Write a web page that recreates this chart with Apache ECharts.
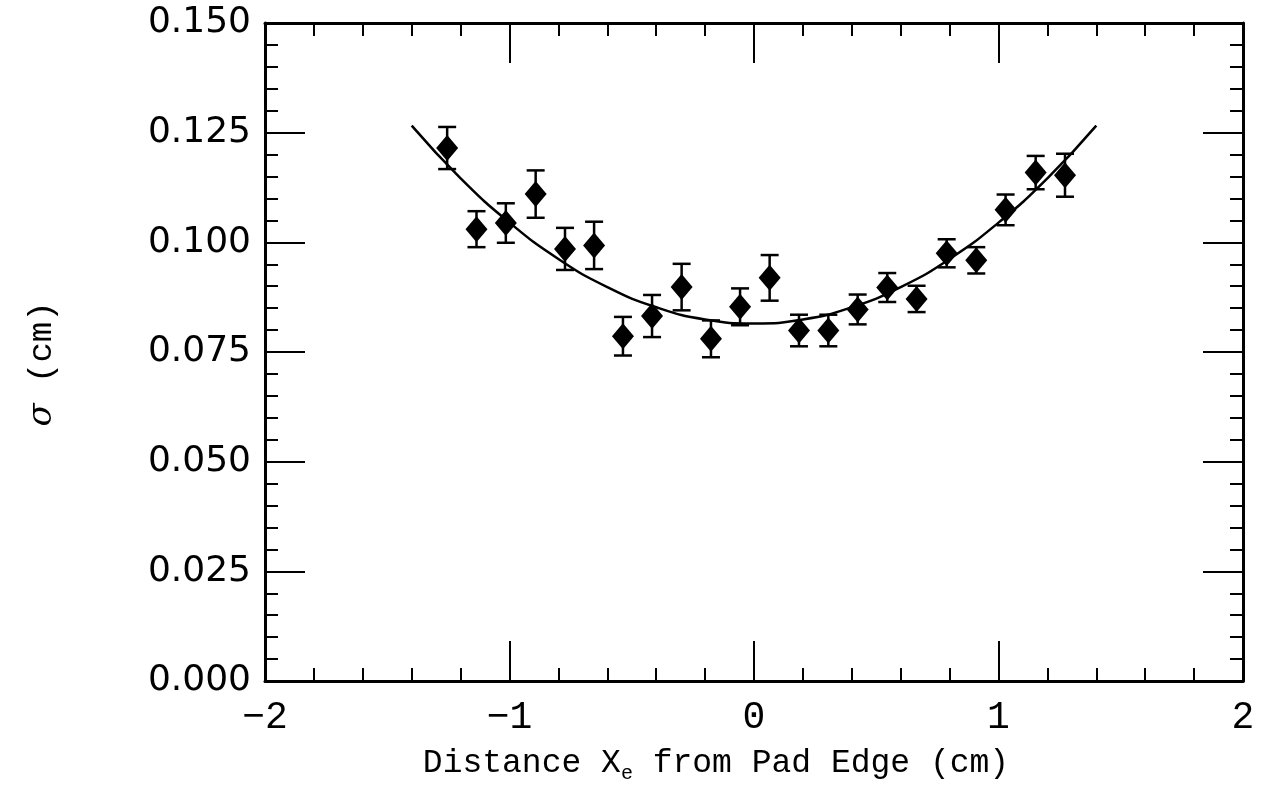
<!DOCTYPE html>
<html>
<head>
<meta charset="utf-8">
<script src="https://cdn.jsdelivr.net/npm/echarts@6/dist/echarts.min.js"></script>
<style>
  html, body { margin: 0; padding: 0; background: #fff; }
  #main { width: 1261px; height: 793px; }
</style>
</head>
<body>
<div id="main"></div>
<script>
// measured points (distance from pad edge, cm)
const xVals = [-1.255, -1.135, -1.015, -0.893, -0.773, -0.654, -0.536, -0.417, -0.296, -0.176, -0.057,
               0.064, 0.184, 0.304, 0.424, 0.545, 0.665, 0.788, 0.909, 1.029, 1.152, 1.272];
const sigmaVals = [0.1215, 0.1030, 0.1044, 0.1110, 0.0985, 0.0993, 0.0786, 0.0832, 0.0898, 0.0780, 0.0853,
                   0.0919, 0.0799, 0.0799, 0.0847, 0.0897, 0.0871, 0.0975, 0.0959, 0.1074, 0.1159, 0.1153];
const sigmaErr = [0.0048, 0.0041, 0.0045, 0.0054, 0.0048, 0.0054, 0.0044, 0.0048, 0.0053, 0.0042, 0.0042,
                  0.0052, 0.0036, 0.0036, 0.0034, 0.0033, 0.0030, 0.0032, 0.0030, 0.0035, 0.0038, 0.0049];
// fitted curve
const fitX = [-1.4, -1.2, -1.0, -0.8, -0.6, -0.4, -0.2, 0.0, 0.2, 0.4, 0.6, 0.8, 1.0, 1.2, 1.4];
const fitY = [0.1266, 0.1146, 0.1045, 0.0962, 0.0898, 0.0852, 0.0824, 0.0815, 0.0824, 0.0852, 0.0898, 0.0962, 0.1045, 0.1146, 0.1266];

const monoFont = '"Liberation Mono", "DejaVu Sans Mono", monospace';
const sansFont = '"DejaVu Sans", sans-serif';

let chart = echarts.init(document.getElementById('main'));

let points = xVals.map((x, i) => [x, sigmaVals[i]]);
let bars = xVals.map((x, i) => [x, sigmaVals[i] - sigmaErr[i], sigmaVals[i] + sigmaErr[i]]);
let fit = fitX.map((x, i) => [x, fitY[i]]);

function frameAxis(extra) {
    return Object.assign({
        type: 'value',
        axisLine: { show: true, onZero: false, lineStyle: { color: '#000', width: 3 } },
        axisTick: { show: true, inside: true, length: 40, lineStyle: { color: '#000', width: 2 } },
        minorTick: { show: true, splitNumber: 5, length: 13, lineStyle: { color: '#000', width: 2 } },
        splitLine: { show: false },
        minorSplitLine: { show: false }
    }, extra);
}

chart.setOption({
    animation: false,
    backgroundColor: '#fff',
    grid: { left: 265, right: 18, top: 23, bottom: 112 },
    xAxis: [
        frameAxis({
            position: 'bottom', min: -2, max: 2, interval: 1,
            axisLabel: {
                color: '#000', fontFamily: monoFont, fontSize: 38, margin: 18,
                formatter: v => (v < 0 ? '\u2212' + Math.abs(v) : String(v))
            },
            name: '{t|Distance X}{e|e}{t| from Pad Edge (cm)}',
            nameLocation: 'middle',
            nameGap: 56,
            nameTextStyle: {
                padding: [0, 76, 0, 0],
                rich: {
                    t: { fontFamily: monoFont, fontSize: 33, color: '#000', lineHeight: 38 },
                    e: { fontFamily: monoFont, fontSize: 20, color: '#000', lineHeight: 20, padding: [22, 0, 0, 0] }
                }
            }
        }),
        frameAxis({ position: 'top', min: -2, max: 2, interval: 1, axisLabel: { show: false } })
    ],
    yAxis: [
        frameAxis({
            position: 'left', min: 0, max: 0.15, interval: 0.025,
            axisLabel: {
                color: '#000', fontFamily: sansFont, fontSize: 36, margin: 14,
                formatter: v => v.toFixed(3)
            }
        }),
        frameAxis({ position: 'right', min: 0, max: 0.15, interval: 0.025, axisLabel: { show: false } })
    ],
    graphic: [{
        type: 'text',
        x: 42, y: 364,
        rotation: Math.PI / 2,
        style: {
            text: '{s|\u03c3}{t| (cm)}',
            align: 'center',
            verticalAlign: 'middle',
            rich: {
                s: { fontFamily: '"DejaVu Serif", serif', fontStyle: 'italic', fontSize: 34, fill: '#000' },
                t: { fontFamily: monoFont, fontSize: 34, fill: '#000' }
            }
        }
    }],
    series: [
        {
            name: 'fit',
            type: 'line',
            data: fit,
            smooth: true,
            showSymbol: false,
            lineStyle: { color: '#000', width: 2.5 },
            z: 2
        },
        {
            name: 'errors',
            type: 'custom',
            data: bars,
            renderItem: function (params, api) {
                let lo = api.coord([api.value(0), api.value(1)]);
                let hi = api.coord([api.value(0), api.value(2)]);
                let cap = 9;
                let style = { stroke: '#000', lineWidth: 2.5 };
                return {
                    type: 'group',
                    children: [
                        { type: 'line', shape: { x1: lo[0], y1: lo[1], x2: hi[0], y2: hi[1] }, style: style },
                        { type: 'line', shape: { x1: lo[0] - cap, y1: lo[1], x2: lo[0] + cap, y2: lo[1] }, style: style },
                        { type: 'line', shape: { x1: hi[0] - cap, y1: hi[1], x2: hi[0] + cap, y2: hi[1] }, style: style }
                    ]
                };
            },
            z: 3
        },
        {
            name: 'sigma',
            type: 'scatter',
            data: points,
            symbol: 'diamond',
            symbolSize: [22, 26],
            itemStyle: { color: '#000', opacity: 1 },
            z: 4
        }
    ]
});
</script>
</body>
</html>
